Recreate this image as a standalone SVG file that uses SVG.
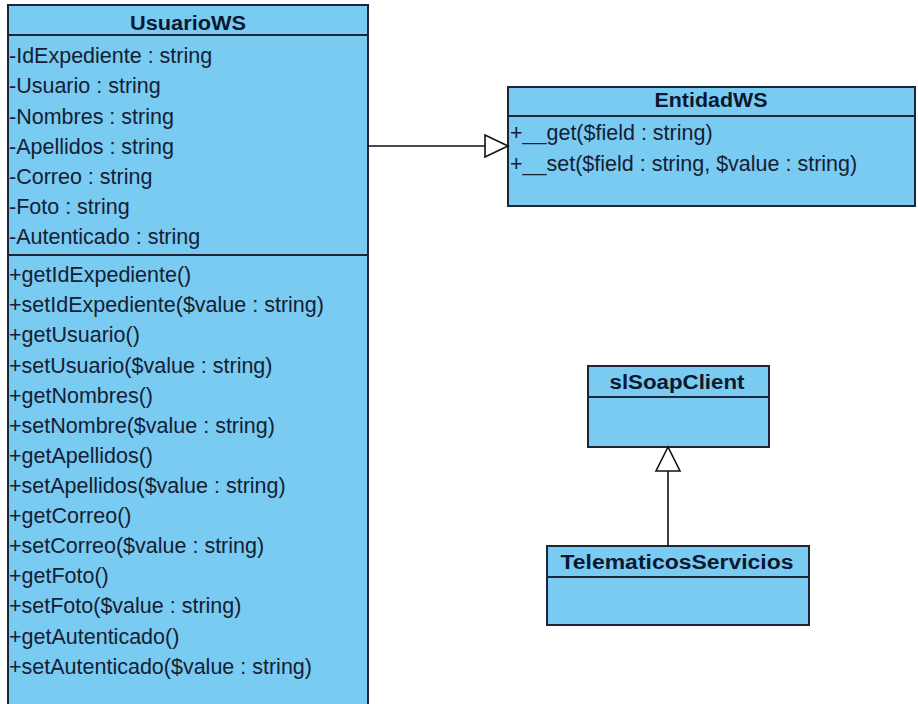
<svg xmlns="http://www.w3.org/2000/svg" width="918" height="704" viewBox="0 0 918 704">
<style>
.box{fill:#7acbf1;stroke:#1c2636;stroke-width:2}
.div{stroke:#1c2636;stroke-width:2}
.hd{font-family:"Liberation Sans",Arial,sans-serif;font-weight:bold;font-size:20px;fill:#0b1830;text-anchor:middle}
.t{font-family:"Liberation Sans",Arial,sans-serif;font-size:21.5px;fill:#152033}
.conn{stroke:#111;stroke-width:1.6;fill:none}
.tri{fill:#fff;stroke:#111;stroke-width:1.6}
</style>
<rect width="918" height="704" fill="#fff"/>
<g id="UsuarioWS">
<rect class="box" x="8" y="5" width="360" height="720"/>
<line class="div" x1="8" y1="35" x2="368" y2="35"/>
<line class="div" x1="8" y1="255" x2="368" y2="255"/>
<text class="hd" x="188" y="30" textLength="116" lengthAdjust="spacingAndGlyphs">UsuarioWS</text>
<text class="t" x="9" y="63">-IdExpediente : string</text>
<text class="t" x="9" y="93">-Usuario : string</text>
<text class="t" x="9" y="123.5">-Nombres : string</text>
<text class="t" x="9" y="153.5">-Apellidos : string</text>
<text class="t" x="9" y="184">-Correo : string</text>
<text class="t" x="9" y="214">-Foto : string</text>
<text class="t" x="9" y="244">-Autenticado : string</text>
<text class="t" x="9" y="282">+getIdExpediente()</text>
<text class="t" x="9" y="312">+setIdExpediente($value : string)</text>
<text class="t" x="9" y="342">+getUsuario()</text>
<text class="t" x="9" y="372.5">+setUsuario($value : string)</text>
<text class="t" x="9" y="402.5">+getNombres()</text>
<text class="t" x="9" y="432.5">+setNombre($value : string)</text>
<text class="t" x="9" y="462.5">+getApellidos()</text>
<text class="t" x="9" y="492.5">+setApellidos($value : string)</text>
<text class="t" x="9" y="523">+getCorreo()</text>
<text class="t" x="9" y="553">+setCorreo($value : string)</text>
<text class="t" x="9" y="583">+getFoto()</text>
<text class="t" x="9" y="613">+setFoto($value : string)</text>
<text class="t" x="9" y="643.5">+getAutenticado()</text>
<text class="t" x="9" y="673.5">+setAutenticado($value : string)</text>
</g>
<g id="EntidadWS">
<rect class="box" x="508" y="87" width="407" height="119"/>
<line class="div" x1="508" y1="116" x2="915" y2="116"/>
<text class="hd" x="711" y="107" textLength="113" lengthAdjust="spacingAndGlyphs">EntidadWS</text>
<text class="t" x="510" y="140">+__get($field : string)</text>
<text class="t" x="510" y="170.5">+__set($field : string, $value : string)</text>
</g>
<g id="sISoapClient">
<rect class="box" x="588" y="366" width="181" height="81"/>
<line class="div" x1="588" y1="397" x2="769" y2="397"/>
<text class="hd" x="677" y="389" textLength="135" lengthAdjust="spacingAndGlyphs">slSoapClient</text>
</g>
<g id="TelematicosServicios">
<rect class="box" x="547" y="546" width="262" height="79"/>
<line class="div" x1="547" y1="577" x2="809" y2="577"/>
<text class="hd" x="677" y="569" textLength="233" lengthAdjust="spacingAndGlyphs">TelematicosServicios</text>
</g>
<g id="connectors">
<line class="conn" x1="368" y1="146" x2="485" y2="146"/>
<polygon class="tri" points="508,146 485,135 485,157"/>
<line class="conn" x1="668" y1="546" x2="668" y2="471"/>
<polygon class="tri" points="668,447 656,471 680,471"/>
</g>
</svg>
